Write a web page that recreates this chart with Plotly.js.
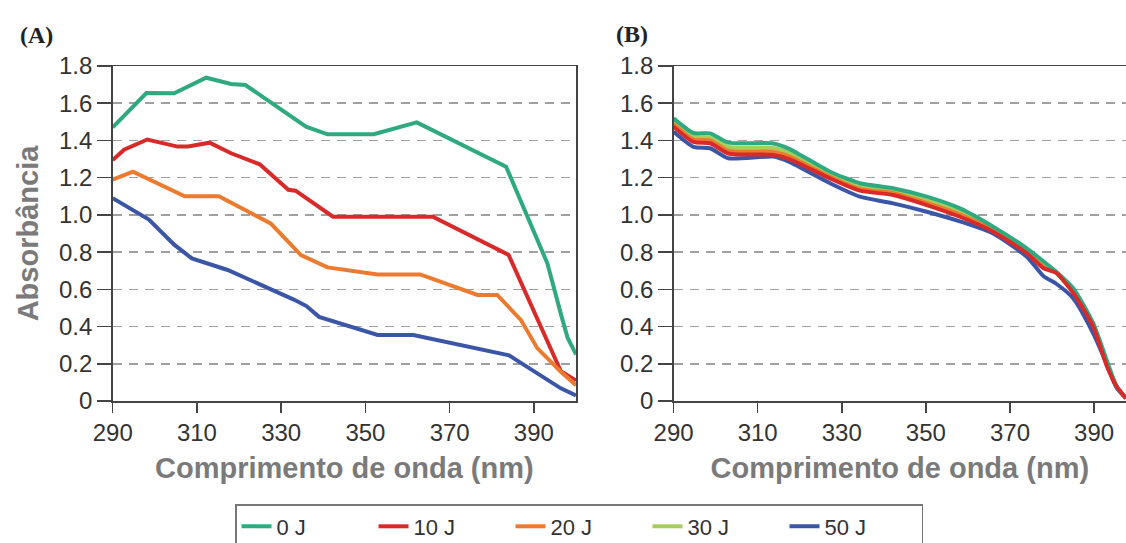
<!DOCTYPE html>
<html>
<head>
<meta charset="utf-8">
<script src="https://cdn.plot.ly/plotly-3.0.1.min.js"></script>
<style>html,body{margin:0;padding:0;background:#fff;}#chart{width:1126px;height:543px;}</style>
</head>
<body>
<div id="chart"></div>
<script>
// ---------- Data ----------
const seriesNames = ["0 J", "10 J", "20 J", "30 J", "50 J"];
const seriesColors = ["#2fa97f", "#d92a2a", "#ec7a2f", "#a6cf5a", "#3b56a6"];

// Panel (A)
const a0J_x  = [290, 298, 304.6, 312.2, 318.1, 321.5, 335.9, 341, 352, 362.2, 383.4, 393.2, 396.5, 398, 400];
const a0J_y  = [1.47, 1.655, 1.653, 1.737, 1.703, 1.698, 1.474, 1.433, 1.433, 1.497, 1.259, 0.74, 0.46, 0.34, 0.25];
const a10J_x = [290, 292.7, 298.2, 305.4, 307.9, 313, 318.1, 324.9, 331.7, 333.4, 342.3, 366, 384, 396.4, 400];
const a10J_y = [1.295, 1.35, 1.405, 1.367, 1.367, 1.388, 1.331, 1.272, 1.135, 1.13, 0.99, 0.99, 0.785, 0.16, 0.11];
const a20J_x = [290, 294.8, 307.1, 315.2, 327.5, 334.7, 341, 352.9, 363, 376.6, 381.3, 386.9, 390.8, 396.4, 400];
const a20J_y = [1.19, 1.232, 1.10, 1.10, 0.954, 0.784, 0.718, 0.68, 0.68, 0.57, 0.57, 0.436, 0.284, 0.157, 0.085];
const a50J_x = [290, 298.6, 304.6, 308.8, 317.3, 330, 333, 336, 339, 352.9, 361.4, 384.1, 396.4, 400];
const a50J_y = [1.09, 0.975, 0.84, 0.766, 0.704, 0.579, 0.545, 0.51, 0.452, 0.355, 0.355, 0.245, 0.068, 0.03];

// Panel (B)
const bWavelength = [290, 294.7, 298.7, 303, 313.7, 317.5, 327.2, 334.3, 342.2, 350.2, 358.1, 366, 374, 378, 381, 385.1, 389.8, 393, 395.4, 397.6];
const b0J  = [1.519, 1.44, 1.438, 1.388, 1.384, 1.355, 1.232, 1.17, 1.143, 1.098, 1.035, 0.937, 0.82, 0.75, 0.695, 0.605, 0.417, 0.22, 0.077, 0.015];
const b10J = [1.474, 1.392, 1.385, 1.33, 1.322, 1.30, 1.196, 1.13, 1.107, 1.053, 0.99, 0.91, 0.794, 0.713, 0.688, 0.579, 0.40, 0.19, 0.077, 0.015];
const b20J = [1.487, 1.405, 1.40, 1.345, 1.34, 1.315, 1.205, 1.14, 1.117, 1.065, 1.003, 0.917, 0.80, 0.72, 0.69, 0.585, 0.405, 0.20, 0.077, 0.015];
const b30J = [1.50, 1.42, 1.415, 1.365, 1.36, 1.335, 1.215, 1.15, 1.127, 1.078, 1.015, 0.925, 0.81, 0.735, 0.69, 0.595, 0.41, 0.21, 0.077, 0.015];
const b50J = [1.447, 1.366, 1.358, 1.304, 1.313, 1.285, 1.17, 1.098, 1.062, 1.017, 0.965, 0.90, 0.775, 0.67, 0.63, 0.55, 0.364, 0.20, 0.07, 0.015];

const xTickVals = [290, 310, 330, 350, 370, 390];
const yTickVals = [0, 0.2, 0.4, 0.6, 0.8, 1.0, 1.2, 1.4, 1.6, 1.8];
const yTickText = ["0", "0.2", "0.4", "0.6", "0.8", "1.0", "1.2", "1.4", "1.6", "1.8"];

const xTitle = "Comprimento de onda (nm)";
const yTitle = "Absorbância";

// ---------- Traces ----------
const LW = 4;
function tr(x, y, idx, xa, ya, showlegend, shape) {
  return {
    x: x, y: y, type: "scatter", mode: "lines",
    name: seriesNames[idx], legendgroup: seriesNames[idx], legendrank: idx + 1,
    showlegend: showlegend,
    line: {color: seriesColors[idx], width: LW, shape: shape || "linear", smoothing: 0.6},
    xaxis: xa, yaxis: ya, hoverinfo: "x+y+name"
  };
}
const traces = [
  tr(a0J_x, a0J_y, 0, "x", "y", false),
  tr(a10J_x, a10J_y, 1, "x", "y", false),
  tr(a20J_x, a20J_y, 2, "x", "y", false),
  tr(a50J_x, a50J_y, 4, "x", "y", false),
  tr(bWavelength, b30J, 3, "x2", "y2", true, "spline"),
  tr(bWavelength, b20J, 2, "x2", "y2", true, "spline"),
  tr(bWavelength, b50J, 4, "x2", "y2", true, "spline"),
  tr(bWavelength, b0J, 0, "x2", "y2", true, "spline"),
  tr(bWavelength, b10J, 1, "x2", "y2", true, "spline")
];

// ---------- Layout ----------
const W = 1126, H = 543;
const tickFont = {family: "Liberation Sans, Arial, sans-serif", size: 24, color: "#333"};
const titleFont = {family: "Liberation Sans, Arial, sans-serif", size: 29, color: "#7a7a7a", weight: 700};
const axisCommonX = {
  tickvals: xTickVals, ticks: "outside", ticklen: 10, tickwidth: 1.5, tickcolor: "#444",
  showline: true, linecolor: "#444", linewidth: 1.5, mirror: true,
  showgrid: false, zeroline: false, tickfont: tickFont, fixedrange: true,
  title: {text: xTitle, font: titleFont, standoff: 12}
};
const axisCommonY = {
  range: [0, 1.8], tickvals: yTickVals, ticktext: yTickText,
  ticks: "outside", ticklen: 14, tickwidth: 1.5, tickcolor: "#444",
  showline: true, linecolor: "#444", linewidth: 1.5,
  showgrid: true, gridcolor: "#a0a0a0", gridwidth: 1.5, griddash: "9px,7px",
  zeroline: false, tickfont: tickFont, fixedrange: true,
  domain: [(H - 401) / H, (H - 66) / H]
};

const layout = {
  width: W, height: H,
  margin: {l: 0, r: 0, t: 0, b: 0, autoexpand: false},
  paper_bgcolor: "#fff", plot_bgcolor: "#fff",
  font: {family: "Liberation Sans, Arial, sans-serif", color: "#333"},
  showlegend: true,
  xaxis: Object.assign({}, axisCommonX, {domain: [112.7 / W, 576 / W], range: [290, 400], anchor: "y"}),
  yaxis: Object.assign({}, axisCommonY, {anchor: "x", mirror: true,
    title: {text: yTitle, font: titleFont, standoff: 12}}),
  xaxis2: Object.assign({}, axisCommonX, {domain: [673.6 / W, 1], range: [290, 397.6], anchor: "y2"}),
  yaxis2: Object.assign({}, axisCommonY, {anchor: "x2", mirror: false}),
  legend: {
    orientation: "h", x: 235 / W, xanchor: "left", y: (H - 504) / H, yanchor: "top",
    bordercolor: "#777", borderwidth: 1.5, bgcolor: "#fff",
    font: {family: "Liberation Sans, Arial, sans-serif", size: 22, color: "#333"},
    entrywidth: 92, entrywidthmode: "pixels", traceorder: "normal"
  },
  annotations: [
    {text: "(A)", xref: "paper", yref: "paper", x: 36 / W, y: (H - 35) / H, xanchor: "center", yanchor: "middle",
     showarrow: false, font: {family: "Liberation Serif, Times New Roman, serif", size: 24, color: "#222", weight: 700}},
    {text: "(B)", xref: "paper", yref: "paper", x: 632 / W, y: (H - 34) / H, xanchor: "center", yanchor: "middle",
     showarrow: false, font: {family: "Liberation Serif, Times New Roman, serif", size: 24, color: "#222", weight: 700}}
  ]
};

Plotly.newPlot("chart", traces, layout, {displayModeBar: false, staticPlot: true});
</script>
</body>
</html>
